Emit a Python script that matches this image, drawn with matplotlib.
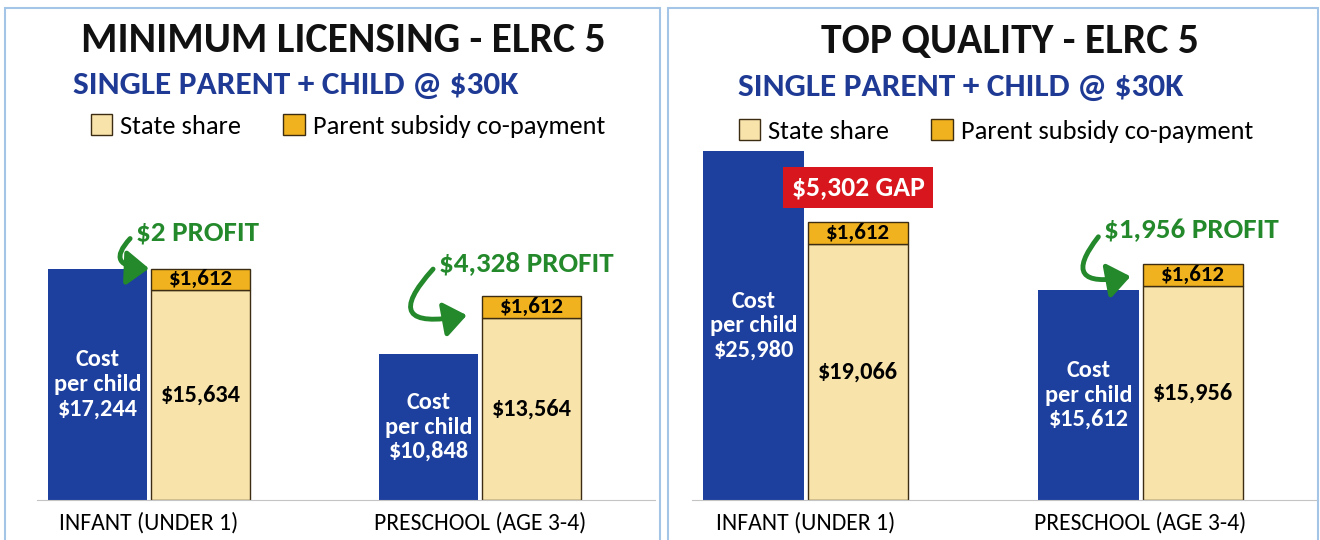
import matplotlib.pyplot as plt
from matplotlib import font_manager
from matplotlib.patches import Rectangle

# DATA
# ============================================================================
categories = ['INFANT (UNDER 1)', 'PRESCHOOL (AGE 3-4)']
legend_labels = ['State share', 'Parent subsidy co-payment']

min_cost = [17244, 10848]
min_state = [15634, 13564]
min_copay = [1612, 1612]
min_notes = ['$2 PROFIT', '$4,328 PROFIT']

top_cost = [25980, 15612]
top_state = [19066, 15956]
top_copay = [1612, 1612]
top_notes = ['$5,302 GAP', '$1,956 PROFIT']
# ============================================================================

names = {f.name for f in font_manager.fontManager.ttflist}
FONT = 'Carlito' if 'Carlito' in names else 'Lato'
plt.rcParams['font.family'] = [FONT, 'DejaVu Sans']

BLUE = '#1d3f9e'
CREAM = '#f8e4ab'
GOLD = '#f1b21f'
EDGE = '#3b2c12'
GREEN = '#23892b'
NAVY = '#1f3a94'
RED = '#d8161d'
FRAME = '#a4c5e6'

W, H = 1320, 540
fig = plt.figure(figsize=(W / 100, H / 100), dpi=100)


def fx(px):
    return px / W


def fy(py):
    return 1 - py / H


def draw_panel(ax, cost, state, copay):
    x = range(len(categories))
    width = 0.30
    off = 0.156
    xb = [i - off for i in x]
    xs = [i + off for i in x]
    ax.bar(xb, cost, width, color=BLUE)
    b1 = ax.bar(xs, state, width, color=CREAM, edgecolor=EDGE, linewidth=1)
    b2 = ax.bar(xs, copay, width, bottom=state, color=GOLD, edgecolor=EDGE, linewidth=1)
    for i in x:
        ax.text(xb[i], cost[i] / 2, 'Cost\nper child\n$%s' % format(cost[i], ','),
                ha='center', va='center', color='white', fontsize=17.5,
                fontweight='bold', linespacing=1.2)
        ax.text(xs[i], state[i] / 2, '$%s' % format(state[i], ','),
                ha='center', va='center', color='black', fontsize=17.5, fontweight='bold')
        ax.text(xs[i], state[i] + copay[i] / 2, '$%s' % format(copay[i], ','),
                ha='center', va='center', color='black', fontsize=16.5, fontweight='bold')
    ax.set_xlim(-0.34, 1.53)
    ax.set_ylim(0, 29800)
    ax.set_xticks(list(x))
    ax.set_xticklabels(categories, fontsize=17)
    ax.tick_params(axis='x', length=0, pad=9)
    ax.set_yticks([])
    for s in ['top', 'left', 'right']:
        ax.spines[s].set_visible(False)
    ax.spines['bottom'].set_color('#c4c4c4')
    return b1, b2


def profit_arrow(ax, text, xy, xytext, rad):
    ax.annotate(text, xy=xy, xytext=xytext, ha='left', va='center',
                color=GREEN, fontsize=21, fontweight='bold',
                arrowprops=dict(arrowstyle='-|>,head_width=0.5,head_length=0.65',
                                color=GREEN, lw=3.5, relpos=(0, 0.5),
                                connectionstyle='arc3,rad=%s' % rad,
                                shrinkA=3, shrinkB=0))


def panel_legend(ax, handles, cx, cy):
    ax.legend(handles, legend_labels, ncol=2, loc='center', frameon=False,
              bbox_to_anchor=(fx(cx), fy(cy)), bbox_transform=fig.transFigure,
              fontsize=19, handlelength=0.8, handleheight=0.8, handletextpad=0.3,
              columnspacing=1.6)


# LEFT PANEL
ax1 = fig.add_axes([fx(36.5), 40 / H, fx(619), 400 / H])
b1, b2 = draw_panel(ax1, min_cost, min_state, min_copay)
profit_arrow(ax1, min_notes[0], (0.0, min_cost[0]), (-0.04, 19900), 1.2)
profit_arrow(ax1, min_notes[1], (0.96, min_state[1] + 200), (0.875, 17650), 1.55)
panel_legend(ax1, [b1, b2], 348, 126)
fig.text(fx(343), fy(40), 'MINIMUM LICENSING - ELRC 5', ha='center', va='center',
         fontsize=30, fontweight='bold', color='#111111')
fig.text(fx(73), fy(85), 'SINGLE PARENT + CHILD @ $30K', ha='left', va='center',
         fontsize=24, fontweight='bold', color=NAVY)

# RIGHT PANEL
ax2 = fig.add_axes([fx(692), 40 / H, fx(626), 400 / H])
b1, b2 = draw_panel(ax2, top_cost, top_state, top_copay)
ax2.text(0.156, 23300, top_notes[0], ha='center', va='center', color='white',
         fontsize=20, fontweight='bold',
         bbox=dict(boxstyle='square,pad=0.3', fc=RED, ec='none'))
profit_arrow(ax2, top_notes[1], (0.97, top_state[1] + 700), (0.89, 20100), 1.4)
panel_legend(ax2, [b1, b2], 996, 131)
fig.text(fx(1010), fy(42), 'TOP QUALITY - ELRC 5', ha='center', va='center',
         fontsize=30, fontweight='bold', color='#111111')
fig.text(fx(738), fy(87), 'SINGLE PARENT + CHILD @ $30K', ha='left', va='center',
         fontsize=24, fontweight='bold', color=NAVY)

# PANEL FRAMES
for x0, x1 in [(5, 660), (668, 1318)]:
    fig.add_artist(Rectangle((fx(x0), fy(560)), fx(x1 - x0), (560 - 8) / H,
                             transform=fig.transFigure, fill=False,
                             edgecolor=FRAME, linewidth=1.5))

plt.savefig('out.png')
